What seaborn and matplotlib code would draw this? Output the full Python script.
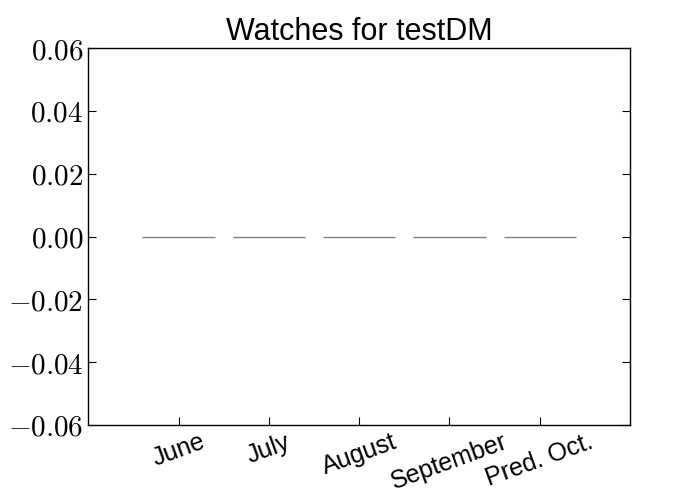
import matplotlib
matplotlib.use("Agg")
import matplotlib.pyplot as plt
import seaborn as sns

months = ["June", "July", "August", "September", "Pred. Oct."]
watches = [0, 0, 0, 0, 0]
yticks = [-0.06, -0.04, -0.02, 0.0, 0.02, 0.04, 0.06]

sns.set_style("ticks")
plt.rcParams["mathtext.fontset"] = "cm"
plt.rcParams["text.color"] = "black"
plt.rcParams["xtick.color"] = "black"
plt.rcParams["ytick.color"] = "black"

fig, ax = plt.subplots(figsize=(7, 5), dpi=100)
fig.subplots_adjust(left=0.126, right=0.9, top=0.904, bottom=0.15)
sns.barplot(x=months, y=watches, color="white", edgecolor="gray", linewidth=1, width=0.8, ax=ax)

ax.set_xlim(-1, 5)
ax.set_ylim(-0.06, 0.06)
ax.set_yticks(yticks)
ax.set_yticklabels([f"${v:.2f}$" for v in yticks], fontsize=21)
ax.set_xticks(range(len(months)))
ax.set_xticklabels(months, rotation=20, fontsize=18, family="Liberation Sans")
ax.tick_params(direction="in", length=6, right=True, colors="black")
for s in ax.spines.values():
    s.set_color("black")
    s.set_linewidth(1)
ax.set_title("Watches for testDM", fontsize=22, family="Liberation Sans", color="black")
ax.set_xlabel("")
ax.set_ylabel("")

fig.savefig("out.png")
